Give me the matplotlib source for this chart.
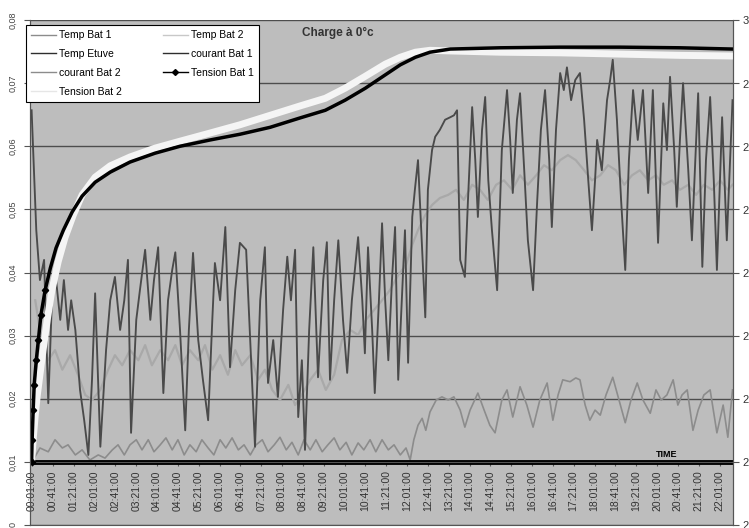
import matplotlib.pyplot as plt
from matplotlib.lines import Line2D

plt.rcParams['font.family'] = ['Liberation Sans', 'DejaVu Sans']

# time in minutes since 00:00, values in the left-axis unit
courant1_t = [0, 3, 9, 16, 24, 32, 39, 45, 55, 62, 70, 76, 84, 93, 101, 109, 116, 122, 132, 143,
              151, 160, 170, 178, 185, 191, 201, 208, 218, 228, 235, 243, 253, 262, 270, 276, 285, 295, 302, 310,
              320, 329, 339, 347, 352, 362, 372, 381, 391, 400, 412, 419, 429, 439, 448, 454, 464, 473, 483, 491,
              498, 506, 512, 519, 525, 533, 541, 550, 560, 567, 573, 581, 589, 598, 606, 615, 627, 635, 640, 646,
              654, 659, 667, 673, 679, 685, 692, 698, 704, 711, 717, 723, 731, 736, 742, 750, 756, 761, 769, 775,
              784, 794, 804, 811, 817, 823, 832, 838, 846, 852, 857, 865, 871, 877, 884, 894, 903, 913, 919, 924,
              932, 938, 946, 953, 963, 971, 978, 986, 994, 999, 1007, 1015, 1022, 1028, 1036, 1044, 1053, 1061, 1069, 1076,
              1082, 1086, 1095, 1105, 1111, 1116, 1124, 1132, 1140, 1147, 1155, 1164, 1174, 1184, 1193, 1203, 1213, 1220, 1226, 1234,
              1239, 1245, 1251, 1261, 1268, 1280, 1288, 1295, 1303, 1310, 1316, 1326, 1335, 1346]
courant1_v = [0.0657, 0.0594, 0.0467, 0.0388, 0.0420, 0.0193, 0.0356, 0.0404, 0.0325, 0.0388,
              0.0309, 0.0356, 0.0309, 0.0214, 0.0166, 0.0111, 0.0230, 0.0367, 0.0124, 0.0277,
              0.0356, 0.0393, 0.0309, 0.0356, 0.0420, 0.0146, 0.0325, 0.0372, 0.0436, 0.0325,
              0.0388, 0.0440, 0.0209, 0.0356, 0.0404, 0.0432, 0.0309, 0.0150, 0.0309, 0.0431,
              0.0293, 0.0230, 0.0166, 0.0325, 0.0415, 0.0356, 0.0472, 0.0250, 0.0372, 0.0447,
              0.0436, 0.0309, 0.0124, 0.0356, 0.0440, 0.0225, 0.0293, 0.0203, 0.0341, 0.0425,
              0.0356, 0.0436, 0.0171, 0.0261, 0.0119, 0.0309, 0.0440, 0.0234, 0.0388, 0.0448,
              0.0230, 0.0356, 0.0451, 0.0325, 0.0241, 0.0356, 0.0456, 0.0356, 0.0272, 0.0440,
              0.0309, 0.0209, 0.0356, 0.0478, 0.0356, 0.0261, 0.0388, 0.0472, 0.0230, 0.0356,
              0.0467, 0.0257, 0.0488, 0.0531, 0.0578, 0.0436, 0.0329, 0.0531, 0.0594, 0.0615,
              0.0626, 0.0642, 0.0646, 0.0649, 0.0657, 0.0420, 0.0393, 0.0515, 0.0662, 0.0578,
              0.0488, 0.0626, 0.0678, 0.0546, 0.0467, 0.0372, 0.0594, 0.0689, 0.0610, 0.0526,
              0.0642, 0.0684, 0.0562, 0.0451, 0.0372, 0.0515, 0.0626, 0.0689, 0.0578, 0.0472,
              0.0626, 0.0716, 0.0689, 0.0725, 0.0673, 0.0705, 0.0716, 0.0642, 0.0546, 0.0467,
              0.0546, 0.0610, 0.0562, 0.0673, 0.0705, 0.0737, 0.0642, 0.0515, 0.0404, 0.0578,
              0.0689, 0.0610, 0.0689, 0.0526, 0.0689, 0.0447, 0.0668, 0.0594, 0.0710, 0.0594,
              0.0504, 0.0610, 0.0700, 0.0562, 0.0451, 0.0684, 0.0409, 0.0578, 0.0678, 0.0546,
              0.0404, 0.0646, 0.0451, 0.0673]

courant2_t = [7, 16, 32, 45, 59, 74, 89, 103, 116, 132, 147, 160, 174, 189, 205, 218, 231, 247, 262, 276,
              289, 304, 320, 333, 347, 362, 377, 391, 404, 420, 435, 448, 462, 477, 493, 506, 519, 535, 550, 565,
              581, 596, 612, 627, 642, 658, 673, 688, 704, 719, 731, 742, 756, 769, 784, 800, 815, 830, 846, 861,
              876, 892, 907, 923, 938, 953, 969, 984, 999, 1015, 1030, 1045, 1061, 1076, 1092, 1107, 1122, 1138, 1153, 1168,
              1184, 1199, 1214, 1230, 1245, 1261, 1276, 1291, 1307, 1322, 1337, 1346]
courant2_v = [0.0356, 0.0309, 0.0261, 0.0277, 0.0246, 0.0269, 0.0238, 0.0206, 0.0198, 0.0214,
              0.0246, 0.0269, 0.0253, 0.0277, 0.0261, 0.0285, 0.0253, 0.0277, 0.0261, 0.0285,
              0.0253, 0.0277, 0.0261, 0.0285, 0.0246, 0.0269, 0.0238, 0.0277, 0.0253, 0.0269,
              0.0230, 0.0246, 0.0214, 0.0198, 0.0222, 0.0190, 0.0206, 0.0230, 0.0246, 0.0214,
              0.0238, 0.0293, 0.0309, 0.0301, 0.0325, 0.0341, 0.0356, 0.0372, 0.0396, 0.0412,
              0.0444, 0.0467, 0.0491, 0.0507, 0.0518, 0.0523, 0.0531, 0.0515, 0.0539, 0.0531,
              0.0515, 0.0539, 0.0546, 0.0531, 0.0554, 0.0539, 0.0554, 0.0570, 0.0562, 0.0578,
              0.0586, 0.0578, 0.0562, 0.0546, 0.0554, 0.0570, 0.0562, 0.0539, 0.0554, 0.0562,
              0.0546, 0.0554, 0.0539, 0.0546, 0.0531, 0.0539, 0.0523, 0.0539, 0.0531, 0.0546,
              0.0531, 0.0539]

temp1_t = [1, 16, 32, 45, 59, 70, 84, 97, 112, 128, 141, 155, 166, 178, 189, 201, 212, 224, 235, 247,
           258, 270, 281, 293, 304, 316, 327, 339, 350, 362, 373, 385, 397, 408, 420, 431, 443, 454, 466, 477,
           489, 500, 512, 523, 535, 546, 558, 569, 581, 592, 604, 615, 627, 638, 650, 661, 673, 685, 696, 708,
           719, 727, 734, 742, 750, 757, 765, 777, 788, 800, 811, 823, 832, 842, 857, 869, 880, 890, 903, 913,
           924, 938, 951, 963, 976, 990, 1001, 1011, 1020, 1034, 1045, 1053, 1063, 1072, 1082, 1092, 1103, 1116, 1128, 1140,
           1151, 1163, 1174, 1188, 1199, 1209, 1220, 1232, 1241, 1249, 1259, 1270, 1280, 1291, 1303, 1316, 1328, 1337, 1346]
temp1_v = [0.0100, 0.0122, 0.0116, 0.0135, 0.0122, 0.0127, 0.0111, 0.0119, 0.0103, 0.0111,
           0.0106, 0.0119, 0.0127, 0.0111, 0.0127, 0.0135, 0.0119, 0.0135, 0.0116, 0.0127,
           0.0138, 0.0119, 0.0135, 0.0111, 0.0127, 0.0116, 0.0135, 0.0122, 0.0111, 0.0135,
           0.0122, 0.0138, 0.0119, 0.0127, 0.0111, 0.0127, 0.0135, 0.0116, 0.0127, 0.0139,
           0.0119, 0.0131, 0.0111, 0.0135, 0.0119, 0.0135, 0.0116, 0.0127, 0.0138, 0.0119,
           0.0131, 0.0111, 0.0130, 0.0119, 0.0135, 0.0116, 0.0135, 0.0119, 0.0127, 0.0111,
           0.0122, 0.0103, 0.0135, 0.0158, 0.0169, 0.0150, 0.0179, 0.0198, 0.0203, 0.0198,
           0.0203, 0.0182, 0.0155, 0.0182, 0.0209, 0.0182, 0.0158, 0.0146, 0.0198, 0.0214,
           0.0171, 0.0219, 0.0190, 0.0155, 0.0198, 0.0225, 0.0166, 0.0206, 0.0230, 0.0227,
           0.0233, 0.0230, 0.0190, 0.0166, 0.0182, 0.0174, 0.0206, 0.0234, 0.0198, 0.0162,
           0.0198, 0.0225, 0.0198, 0.0177, 0.0214, 0.0198, 0.0206, 0.0230, 0.0190, 0.0206,
           0.0214, 0.0150, 0.0182, 0.0206, 0.0214, 0.0146, 0.0190, 0.0139, 0.0214]

etuve_t = [0, 1346]
etuve_v = [0.01, 0.01]

# battery voltages (right axis, volts)
tension1_t = [0, 1, 3, 5, 9, 13, 18, 26, 36, 47, 61, 78, 97, 122, 151, 189, 237, 285, 343, 400,
              458, 516, 564, 602, 641, 679, 708, 737, 765, 804, 900, 1015, 1130, 1245, 1346]
tension1_v = [2.300, 2.335, 2.382, 2.422, 2.461, 2.493, 2.533, 2.572, 2.607, 2.639,
              2.667, 2.696, 2.721, 2.743, 2.759, 2.775, 2.789, 2.800, 2.810, 2.819,
              2.830, 2.845, 2.857, 2.873, 2.892, 2.913, 2.929, 2.941, 2.949, 2.954,
              2.956, 2.957, 2.957, 2.956, 2.954]

tension2_t = [0, 3, 7, 11, 16, 22, 30, 39, 51, 64, 80, 97, 122, 151, 189, 237, 285, 343, 400, 458,
              516, 564, 602, 641, 679, 708, 737, 765, 804, 900, 1015, 1130, 1245, 1346]
tension2_v = [2.300, 2.335, 2.374, 2.406, 2.438, 2.477, 2.525, 2.572, 2.617, 2.655,
              2.691, 2.723, 2.751, 2.769, 2.783, 2.797, 2.808, 2.821, 2.834, 2.849,
              2.864, 2.876, 2.892, 2.911, 2.930, 2.941, 2.949, 2.952, 2.951, 2.949,
              2.948, 2.946, 2.944, 2.943]

time_ticks = list(range(1, 1322, 40))
time_labels = ['%02d:%02d:00' % (m // 60, m % 60) for m in time_ticks]
left_ticks = [i * 0.01 for i in range(9)]
left_labels = ['0'] + ['0,0%d' % i for i in range(1, 9)]
right_ticks = [2.2 + i * 0.1 for i in range(9)]
right_labels = ['2,2', '2,3', '2,4', '2,5', '2,6', '2,7', '2,8', '2,9', '3']

fig = plt.figure(figsize=(7.49, 5.28), dpi=100)
ax = fig.add_axes([0.0401, 0.0057, 0.9386, 0.9564])
ax.set_facecolor('#bdbdbd')
ax.set_xlim(-3, 1347)
ax.set_ylim(0, 0.08)

ax.set_yticks(left_ticks)
ax.set_yticklabels(left_labels, rotation=90, va='center', fontsize=6.5, color='#444444')
ax.yaxis.grid(True, color='#4d4d4d', lw=1)
ax.set_axisbelow(True)

ax.spines['bottom'].set_position(('data', 0.01))
ax.spines['top'].set_visible(False)
for s in ['left', 'right', 'bottom']:
    ax.spines[s].set_color('#555555')
ax.set_xticks(time_ticks)
ax.set_xticklabels(time_labels, rotation=90, fontsize=7.5, color='#333333')
ax.tick_params(axis='x', length=3, pad=3, color='#555555')
ax.tick_params(axis='y', length=4, pad=5, color='#555555')

ax.plot(temp1_t, temp1_v, color='#8c8c8c', lw=1.2, label='Temp Bat 1')
ax.plot(courant2_t, courant2_v, color='#a9a9a9', lw=1.6, label='courant Bat 2')
ax.plot(courant1_t, courant1_v, color='#4a4a4a', lw=1.35, label='courant Bat 1')
ax.plot(etuve_t, etuve_v, color='black', lw=3.5, solid_capstyle='butt', label='Temp Etuve')

ax.text(1220, 0.0104, 'TIME', fontsize=6.5, fontweight='bold', ha='center', va='bottom')
ax.text(0.438, 0.974, 'Charge à 0°c', transform=ax.transAxes, fontsize=8.5,
        fontweight='bold', color='#333333', ha='center', va='center')

ax2 = ax.twinx()
ax2.set_ylim(2.2, 3.0)
ax2.set_yticks(right_ticks)
ax2.set_yticklabels(right_labels, fontsize=8, color='#333333')
ax2.tick_params(axis='y', length=4, pad=3, color='#555555')
ax2.spines['top'].set_visible(False)
for s in ['left', 'right', 'bottom']:
    ax2.spines[s].set_color('#555555')

ax2.plot(tension2_t, tension2_v, color='#f5f5f5', lw=5, solid_capstyle='round', label='Tension Bat 2')
ax2.plot(tension1_t, tension1_v, color='black', lw=2.5, marker='D', markersize=3.2,
         markevery=slice(0, 8), label='Tension Bat 1')

handles = [
    Line2D([], [], color='#8c8c8c', lw=1),
    Line2D([], [], color='#2e2e2e', lw=1),
    Line2D([], [], color='#8c8c8c', lw=1),
    Line2D([], [], color='#e6e6e6', lw=1),
    Line2D([], [], color='#c8c8c8', lw=1),
    Line2D([], [], color='#2e2e2e', lw=1),
    Line2D([], [], color='black', lw=1, marker='D', markersize=3),
]
labels = ['Temp Bat 1', 'Temp Etuve', 'courant Bat 2', 'Tension Bat 2',
          'Temp Bat 2', 'courant Bat 1', 'Tension Bat 1']
leg = ax2.legend(handles, labels, ncol=2, loc='upper left', bbox_to_anchor=(-0.006, 0.99),
                 borderaxespad=0, fontsize=7.5, frameon=True, fancybox=False,
                 handlelength=2.4, handletextpad=0.3, columnspacing=3.9,
                 labelspacing=0.85, borderpad=0.5)
leg.get_frame().set_edgecolor('black')
leg.get_frame().set_linewidth(0.8)
leg.get_frame().set_facecolor('white')
leg.get_frame().set_alpha(1)

fig.savefig('out.png', dpi=100)
